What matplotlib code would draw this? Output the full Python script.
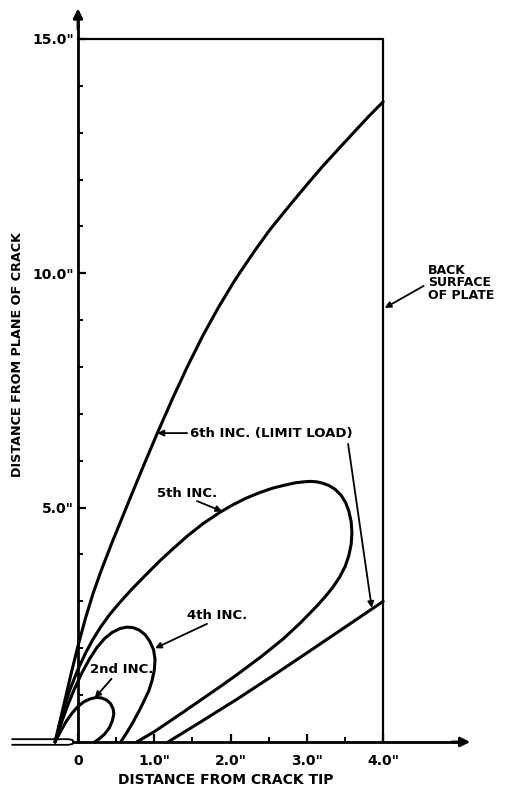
import numpy as np
import matplotlib.pyplot as plt

plt.rcParams['font.family'] = ['DejaVu Sans']
plt.rcParams['font.weight'] = 'bold'

# plastic zone boundaries, inches
# x = distance from crack tip, y = distance from plane of crack
inc2_x = [-0.30, -0.22, -0.15, -0.07, 0.00, 0.08, 0.16, 0.24, 0.31, 0.38, 0.43, 0.46, 0.47, 0.45, 0.41, 0.35, 0.28, 0.22]
inc2_y = [0.00, 0.25, 0.45, 0.63, 0.76, 0.86, 0.92, 0.95, 0.94, 0.89, 0.81, 0.71, 0.60, 0.45, 0.30, 0.17, 0.07, 0.00]

inc4_x = [-0.30, -0.22, -0.14, -0.05, 0.05, 0.15, 0.25, 0.35, 0.45, 0.55, 0.64, 0.72, 0.80, 0.88, 0.94, 0.99, 1.01, 1.00, 0.97, 0.93, 0.87, 0.80, 0.72, 0.64, 0.56]
inc4_y = [0.00, 0.40, 0.76, 1.12, 1.47, 1.77, 2.02, 2.21, 2.34, 2.42, 2.45, 2.44, 2.39, 2.29, 2.15, 1.97, 1.76, 1.53, 1.31, 1.10, 0.89, 0.66, 0.42, 0.20, 0.00]

inc5_x = [-0.30, -0.20, -0.10, 0.00, 0.10, 0.20, 0.30, 0.42, 0.55, 0.70, 0.88, 1.07, 1.25, 1.43, 1.64, 1.86, 2.03, 2.20, 2.38, 2.56, 2.71, 2.85, 2.96, 3.04,
          3.13, 3.21, 3.29, 3.37, 3.45, 3.51, 3.55, 3.58, 3.59, 3.58, 3.55, 3.50, 3.43, 3.34, 3.24, 3.13, 2.92, 2.69, 2.40, 2.12, 1.88, 1.64, 1.40, 1.20, 1.00, 0.77]
inc5_y = [0.00, 0.64, 1.14, 1.55, 1.90, 2.20, 2.46, 2.73, 2.98, 3.25, 3.55, 3.86, 4.13, 4.39, 4.66, 4.90, 5.06, 5.20, 5.32, 5.42, 5.48, 5.53, 5.55, 5.56,
          5.55, 5.52, 5.47, 5.39, 5.26, 5.10, 4.92, 4.70, 4.46, 4.22, 3.98, 3.74, 3.52, 3.30, 3.10, 2.90, 2.55, 2.20, 1.82, 1.48, 1.20, 0.93, 0.66, 0.44, 0.22, 0.00]

inc6_x = [-0.30, -0.20, -0.10, 0.00, 0.10, 0.20, 0.30, 0.44, 0.64, 0.84, 1.04, 1.24, 1.44, 1.64, 1.84, 2.04, 2.12, 2.32, 2.52, 2.78, 3.00, 3.20, 3.43, 3.60, 3.80, 4.00]
inc6_y = [0.00, 0.69, 1.39, 2.05, 2.65, 3.18, 3.64, 4.23, 5.03, 5.82, 6.59, 7.33, 8.03, 8.68, 9.27, 9.81, 10.01, 10.49, 10.94, 11.46, 11.89, 12.27, 12.68, 12.98, 13.33, 13.66]

# lower branch of 6th increment, running to the back surface
inc6_low_x = [1.18, 1.60, 2.10, 2.55, 3.00, 3.50, 4.00]
inc6_low_y = [0.00, 0.42, 0.93, 1.41, 1.90, 2.45, 3.00]

plate_width = 4.0
plate_height = 15.0

x_major = [0, 1, 2, 3, 4]
x_labels = ['0', '1.0"', '2.0"', '3.0"', '4.0"']
x_minor = [0.5, 1.5, 2.5, 3.5]
y_major = [5, 10, 15]
y_labels = ['5.0"', '10.0"', '15.0"']
y_minor = [1, 2, 3, 4, 6, 7, 8, 9, 11, 12, 13, 14]

fig = plt.figure(figsize=(5.14, 7.89), dpi=100)
ax = fig.add_axes([0, 0, 1, 1])
ax.set_xlim(-1.022, 5.714)
ax.set_ylim(-1.003, 15.83)
ax.patch.set_alpha(0)

for s in ['top', 'right']:
    ax.spines[s].set_visible(False)
ax.spines['left'].set_position(('data', 0))
ax.spines['bottom'].set_position(('data', 0))
ax.spines['left'].set_bounds(0, 15.45)
ax.spines['bottom'].set_bounds(-0.07, 5.0)
ax.spines['left'].set_linewidth(2.0)
ax.spines['bottom'].set_linewidth(2.0)

# axis arrowheads
arrow_kw = dict(arrowstyle='-|>', color='black', lw=2.0, mutation_scale=14, shrinkA=0, shrinkB=0)
ax.annotate('', xy=(0, 15.65), xytext=(0, 15.2), arrowprops=arrow_kw)
ax.annotate('', xy=(5.14, 0), xytext=(4.9, 0), arrowprops=arrow_kw)

ax.set_xticks(x_major, labels=x_labels, fontsize=10, fontweight='bold')
ax.set_xticks(x_minor, minor=True)
ax.set_yticks(y_major, labels=y_labels, fontsize=10, fontweight='bold')
ax.set_yticks(y_minor, minor=True)
ax.tick_params(axis='both', which='major', direction='in', length=6, width=1.6)
ax.tick_params(axis='both', which='minor', direction='in', length=3.5, width=1.4)
ax.tick_params(axis='x', which='major', pad=9)
ax.tick_params(axis='y', which='major', pad=3)

# plate outline
ax.plot([0, plate_width, plate_width], [plate_height, plate_height, 0], color='black', lw=1.6)

# crack faces
ax.plot([-0.86, -0.12, -0.07, -0.055, -0.07, -0.12, -0.86],
        [0.06, 0.06, 0.04, 0.0, -0.04, -0.06, -0.06], color='black', lw=1.3)

curve_kw = dict(color='black', lw=2.2, solid_joinstyle='round', solid_capstyle='round')
ax.plot(inc2_x, inc2_y, **curve_kw)
ax.plot(inc4_x, inc4_y, **curve_kw)
ax.plot(inc5_x, inc5_y, **curve_kw)
ax.plot(inc6_x, inc6_y, **curve_kw)
ax.plot(inc6_low_x, inc6_low_y, **curve_kw)

# labels with leader arrows
lead_kw = dict(arrowstyle='-|>', color='black', lw=1.3, mutation_scale=9, shrinkA=0, shrinkB=0)
txt_kw = dict(fontsize=9.5, fontweight='bold', va='center', ha='left')

ax.text(1.47, 6.59, '6th INC. (LIMIT LOAD)', **txt_kw)
ax.annotate('', xy=(1.04, 6.59), xytext=(1.43, 6.59), arrowprops=lead_kw)
ax.annotate('', xy=(3.85, 2.86), xytext=(3.54, 6.36), arrowprops=lead_kw)

ax.text(1.04, 5.31, '5th INC.', **txt_kw)
ax.annotate('', xy=(1.89, 4.92), xytext=(1.56, 5.14), arrowprops=lead_kw)

ax.text(1.43, 2.69, '4th INC.', **txt_kw)
ax.annotate('', xy=(1.01, 2.0), xytext=(1.69, 2.52), arrowprops=lead_kw)

ax.text(0.16, 1.54, '2nd INC.', **txt_kw)
ax.annotate('', xy=(0.22, 0.94), xytext=(0.44, 1.35), arrowprops=lead_kw)

ax.text(4.59, 9.80, 'BACK\nSURFACE\nOF PLATE', fontsize=9, fontweight='bold',
        va='center', ha='left', linespacing=0.95)
ax.annotate('', xy=(4.02, 9.26), xytext=(4.53, 9.73), arrowprops=lead_kw)

ax.text(1.93, -0.81, 'DISTANCE FROM CRACK TIP', fontsize=10, fontweight='bold',
        ha='center', va='center')
ax.text(-0.79, 8.26, 'DISTANCE FROM PLANE OF CRACK', fontsize=9.2, fontweight='bold',
        ha='center', va='center', rotation=90)

fig.savefig('out.png', dpi=100)
